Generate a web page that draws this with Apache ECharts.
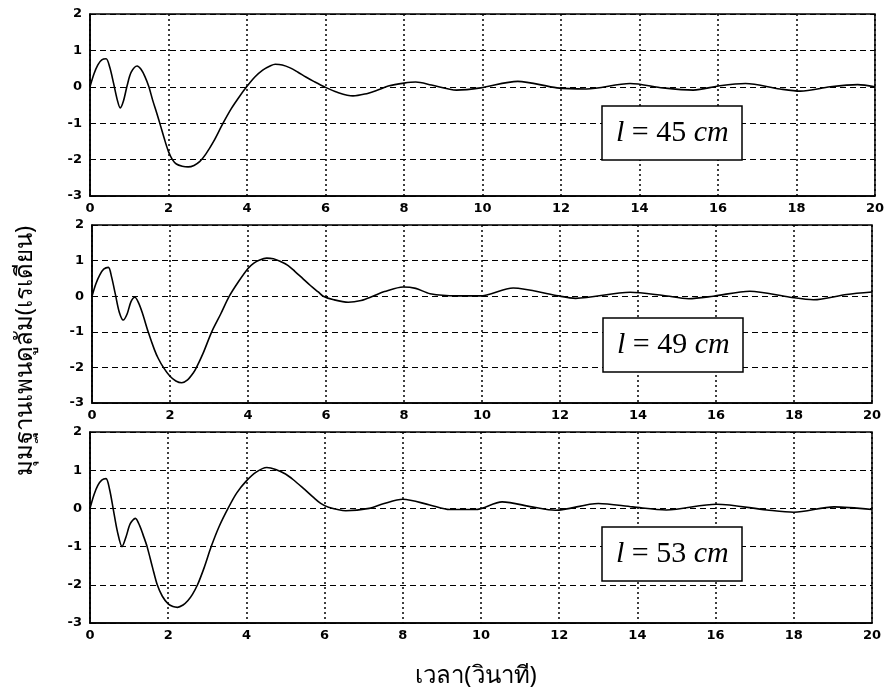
<!DOCTYPE html>
<html>
<head>
<meta charset="utf-8">
<script src="https://cdn.jsdelivr.net/npm/echarts@6/dist/echarts.min.js"></script>
<style>html,body{margin:0;padding:0;background:#fff}#c{width:887px;height:691px}</style>
</head>
<body>
<div id="c"></div>
<script>
// ---- data ----
const xTicks = [0, 2, 4, 6, 8, 10, 12, 14, 16, 18, 20];
const yTicks = [-3, -2, -1, 0, 1, 2];
const panelLabels = ['45', '49', '53'];
const xTitle = 'เวลา(วินาที)';
const yTitle = 'มุมฐานเพนดูลัม(เรเดียน)';

const t45 = [0,0.1,0.2,0.3,0.41,0.5,0.6,0.7,0.77,0.85,0.95,1.05,1.2,1.3,1.4,1.5,1.6,1.7,1.8,1.9,2.0,2.1,2.2,2.35,2.5,2.65,2.8,2.95,3.15,3.39,3.6,3.8,3.99,4.2,4.4,4.6,4.72,4.9,5.1,5.3,5.5,5.7,5.97,6.3,6.7,7.0,7.3,7.6,8.0,8.3,8.7,9.34,9.95,10.9,11.9,12.65,13.76,14.6,15.37,16.05,16.7,17.58,18.1,18.86,19.56,20];
const y45 = [0,0.35,0.6,0.74,0.77,0.55,0.1,-0.38,-0.58,-0.4,0.05,0.4,0.57,0.48,0.28,0,-0.38,-0.72,-1.08,-1.45,-1.78,-2.0,-2.12,-2.18,-2.2,-2.16,-2.05,-1.85,-1.5,-1.0,-0.6,-0.28,0,0.27,0.46,0.58,0.62,0.6,0.52,0.4,0.27,0.15,0,-0.15,-0.25,-0.2,-0.1,0.02,0.1,0.13,0.05,-0.09,-0.03,0.15,-0.03,-0.06,0.09,-0.03,-0.09,0.03,0.09,-0.06,-0.12,0,0.06,0];

const t49 = [0,0.1,0.2,0.3,0.42,0.5,0.6,0.7,0.8,0.9,1.0,1.1,1.2,1.3,1.44,1.6,1.7,1.83,2.0,2.15,2.3,2.45,2.6,2.68,2.85,3.07,3.3,3.52,3.75,4.0,4.15,4.3,4.48,4.65,4.82,5.0,5.2,5.4,5.6,5.8,5.93,6.2,6.57,6.9,7.2,7.5,7.98,8.3,8.67,9.35,9.95,10.8,11.9,12.4,13.8,14.65,15.3,15.93,16.87,17.9,18.5,19.35,20];
const y49 = [0,0.35,0.6,0.76,0.81,0.55,0.05,-0.45,-0.67,-0.5,-0.15,-0.03,-0.2,-0.5,-1.0,-1.5,-1.75,-2.0,-2.25,-2.38,-2.43,-2.35,-2.15,-2.0,-1.6,-1.0,-0.5,0,0.4,0.78,0.93,1.02,1.07,1.05,0.98,0.88,0.7,0.5,0.3,0.12,0,-0.1,-0.17,-0.12,0,0.13,0.26,0.22,0.07,0.01,0.01,0.23,0.02,-0.06,0.11,0.02,-0.07,0,0.14,-0.03,-0.1,0.05,0.12];

const t53 = [0,0.1,0.2,0.3,0.41,0.5,0.6,0.7,0.82,0.92,1.03,1.16,1.27,1.36,1.46,1.6,1.72,1.85,2.0,2.12,2.24,2.38,2.5,2.62,2.75,2.92,3.1,3.3,3.53,3.75,4.0,4.25,4.52,4.75,5.0,5.2,5.45,5.7,5.9,6.1,6.54,7.14,7.5,8.0,8.69,9.2,9.86,10.54,11.3,11.9,13.0,13.88,14.74,16.02,17.31,18.0,19.03,20];
const y53 = [0,0.35,0.6,0.74,0.78,0.5,-0.05,-0.6,-1.0,-0.75,-0.4,-0.26,-0.45,-0.7,-1.0,-1.55,-2.0,-2.3,-2.5,-2.57,-2.59,-2.53,-2.42,-2.25,-2.0,-1.55,-1.0,-0.48,0,0.4,0.72,0.95,1.07,1.02,0.9,0.75,0.53,0.3,0.13,0.03,-0.06,0,0.12,0.24,0.09,-0.03,-0.03,0.17,0.04,-0.05,0.13,0.04,-0.04,0.11,-0.04,-0.1,0.04,-0.03];

const times = [t45, t49, t53];
const values = [y45, y49, y53];

// ---- layout ----
const grids = [
  {left: 90, right: 12, top: 14, height: 182},
  {left: 92, right: 15, top: 225, height: 178},
  {left: 90, right: 15, top: 432, height: 191}
];
const boxes = [
  {left: 602, top: 106},
  {left: 603, top: 318},
  {left: 602, top: 527}
];
const tickFont = {color: '#000', fontFamily: 'DejaVu Sans', fontSize: 13, fontWeight: 'bold'};

const option = {
  animation: false,
  backgroundColor: '#fff',
  grid: grids.map(g => Object.assign({show: true, borderColor: '#000', borderWidth: 1.5, containLabel: false}, g)),
  xAxis: grids.map((g, i) => ({
    type: 'value', gridIndex: i, min: xTicks[0], max: xTicks[xTicks.length - 1], interval: xTicks[1] - xTicks[0],
    axisLine: {show: true, onZero: false, lineStyle: {color: '#000', width: 1.5}},
    axisTick: {show: false},
    axisLabel: Object.assign({margin: 6}, tickFont),
    splitLine: {show: true, lineStyle: {color: '#000', width: 1.5, type: [2, 3]}}
  })),
  yAxis: grids.map((g, i) => ({
    type: 'value', gridIndex: i, min: yTicks[0], max: yTicks[yTicks.length - 1], interval: yTicks[1] - yTicks[0],
    axisLine: {show: true, lineStyle: {color: '#000', width: 1.5}},
    axisTick: {show: false},
    axisLabel: Object.assign({margin: 8}, tickFont),
    splitLine: {show: true, lineStyle: {color: '#000', width: 1.2, type: [6, 4]}}
  })),
  title: panelLabels.map((lab, i) => ({
    left: boxes[i].left, top: boxes[i].top,
    text: '{i|l} = ' + lab + ' {i|cm}',
    borderColor: '#000', borderWidth: 1.5,
    padding: [12, 14, 12, 14],
    backgroundColor: '#fff',
    textStyle: {
      fontFamily: 'Liberation Serif', fontSize: 30, fontWeight: 'normal', color: '#000',
      rich: {i: {fontFamily: 'Liberation Serif', fontSize: 30, fontStyle: 'italic', color: '#000'}}
    }
  })),
  series: times.map((ts, i) => ({
    type: 'line', xAxisIndex: i, yAxisIndex: i,
    data: ts.map((t, k) => [t, values[i][k]]),
    showSymbol: false, smooth: 0.3,
    lineStyle: {color: '#000', width: 1.6},
    z: 3
  })),
  graphic: [
    {type: 'text', x: 476, y: 676,
     style: {text: xTitle, fontSize: 24, fill: '#000', fontFamily: 'Noto Sans, sans-serif', align: 'center', verticalAlign: 'middle'}},
    {type: 'text', x: 25, y: 351, rotation: Math.PI / 2, originX: 0, originY: 0,
     style: {text: yTitle, fontSize: 24, fill: '#000', fontFamily: 'Noto Sans, sans-serif', align: 'center', verticalAlign: 'middle'}}
  ]
};

const chart = echarts.init(document.getElementById('c'), null, {renderer: 'canvas'});
chart.setOption(option);
</script>
</body>
</html>
